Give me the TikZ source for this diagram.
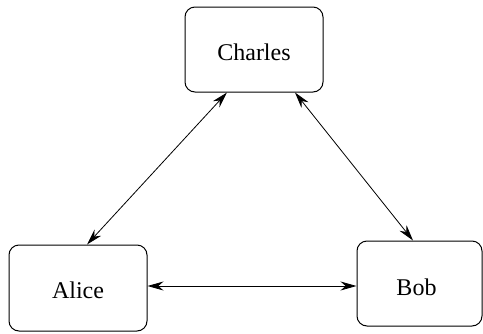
\documentclass[tikz,border=0pt]{standalone}
\usepackage{fontspec}
\setmainfont{Liberation Serif}
\usetikzlibrary{arrows.meta,calc,positioning}

\begin{document}
\begin{tikzpicture}[x=0.5pt,y=-0.5pt,>={Stealth[length=8pt,width=4.5pt]},
  every node/.style={font=\fontsize{12}{14}\selectfont},
  person/.style={draw,line width=0.5pt,rounded corners=5pt,inner sep=0pt,
    text height=8pt,text depth=0pt}]
\useasboundingbox (0,0) rectangle (483,333);
\node[person,minimum width=69pt,minimum height=42.5pt] (charles) at (254,49.5) {\raisebox{-1.25pt}{Charles}};
\node[person,minimum width=69pt,minimum height=43pt] (alice) at (78,288) {\raisebox{-1pt}{Alice}};
\node[person,minimum width=62.5pt,minimum height=42.5pt] (bob) at (419.5,283.5) {\hspace*{-3pt}\raisebox{-1.75pt}{Bob}};
\draw[<->,line width=0.4pt] ([xshift=-13.5pt]charles.south)--([xshift=4.5pt]alice.north);
\draw[<->,line width=0.4pt] ([xshift=20.5pt]charles.south)--([xshift=-3.25pt]bob.north);
\draw[<->,line width=0.4pt] ([yshift=1pt]alice.east)--([yshift=1pt]alice.east -| bob.west);
\end{tikzpicture}
\end{document}
